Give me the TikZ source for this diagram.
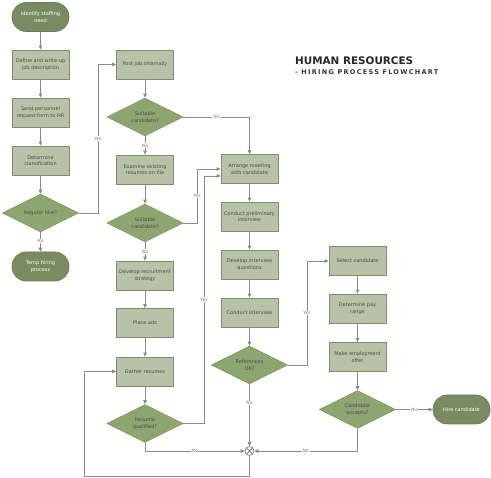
\documentclass[tikz,border=0pt]{standalone}
\usepackage{fontspec}
\setmainfont{DejaVu Sans}
\usetikzlibrary{arrows.meta,shapes.geometric,calc}
\definecolor{boxfill}{HTML}{B7C3A7}
\definecolor{boxline}{HTML}{7F8C73}
\definecolor{dfill}{HTML}{8DA66F}
\definecolor{dline}{HTML}{809A63}
\definecolor{tfill}{HTML}{7A8B62}
\definecolor{tline}{HTML}{6C7C56}
\definecolor{conn}{HTML}{8A8A8A}
\definecolor{txt}{HTML}{4A4A4A}
\definecolor{lbltxt}{HTML}{7A7A7A}
\tikzset{
  basefont/.style={font=\fontsize{5}{6.5}\selectfont},
  procbox/.style={basefont, rectangle, draw=boxline, fill=boxfill, line width=0.8pt,
    minimum width=57pt, minimum height=29pt, inner sep=1pt, align=center, text=txt},
  decision/.style={basefont, diamond, draw=dline, fill=dfill, line width=0.6pt,
    minimum width=76pt, minimum height=38pt, inner sep=0pt, aspect=2, align=center, text=txt},
  terminal/.style={basefont, rectangle, rounded corners=14pt, draw=tline, fill=tfill,
    line width=0.6pt, minimum width=57pt, minimum height=29pt, inner sep=1pt,
    align=center, text=white},
  junction/.style={circle, draw=conn, fill=white, line width=0.7pt, minimum size=9pt, inner sep=0pt},
  conn/.style={draw=conn, line width=0.9pt, -{Triangle[length=4pt,width=3.6pt]}},
  lbl/.style={font=\fontsize{4.5}{5}\selectfont, text=lbltxt, fill=white, inner sep=0.6pt},
}
\begin{document}
\begin{tikzpicture}[x=1pt,y=-1pt]
\useasboundingbox (0,0) rectangle (491,478);
% left column
\node[terminal] (start) at (40.5,17) {Identify staffing\\need};
\node[procbox] (def) at (40.5,64.5) {Define and write up\\job description};
\node[procbox] (send) at (40.5,112.5) {Send personnel\\request form to HR};
\node[procbox] (det) at (40.5,160.5) {Determine\\classification};
\node[decision] (reg) at (40.5,213) {Regular hire?};
\node[terminal] (temp) at (40.5,266.5) {Temp hiring\\process};
% middle column
\node[procbox] (post) at (145,64.5) {Post job internally};
\node[decision] (suit1) at (145,117) {Suitable\\candidate?};
\node[procbox] (exam) at (145,169.5) {Examine existing\\resumes on file};
\node[decision] (suit2) at (145,223) {Suitable\\candidate?};
\node[procbox] (dev) at (145,275.5) {Develop recruitment\\strategy};
\node[procbox] (place) at (145,323) {Place ads};
\node[procbox] (gather) at (145,371.5) {Gather resumes};
\node[decision] (resq) at (145,423.5) {Resume\\qualified?};
% right-middle column
\node[procbox] (arr) at (249.5,169) {Arrange meeting\\with candidate};
\node[procbox] (cpi) at (249.5,216.5) {Conduct preliminary\\interview};
\node[procbox] (diq) at (249.5,264.5) {Develop interview\\questions};
\node[procbox] (ci) at (249.5,312.5) {Conduct interview};
\node[decision] (ref) at (249.5,365) {References\\OK?};
\node[junction] (j) at (249.5,451) {};
\draw[conn, -] (j.north east) -- (j.south west);
\draw[conn, -] (j.north west) -- (j.south east);
% right column
\node[procbox] (sel) at (357.5,261) {Select candidate};
\node[procbox] (pay) at (357.5,308.5) {Determine pay\\range};
\node[procbox] (offer) at (357.5,357) {Make employment\\offer};
\node[decision] (acc) at (357.5,409.5) {Candidate\\accepts?};
\node[terminal] (hire) at (461.5,409.5) {Hire candidate};
% title
\node[anchor=west, inner sep=0pt, text=black!85, font=\bfseries\fontsize{10.4}{12}\selectfont] (t1) at (295,61) {HUMAN RESOURCES};
\node[anchor=west, inner sep=0pt, text=black!80, font=\bfseries\fontsize{6.5}{7}\selectfont\addfontfeature{LetterSpace=20}] (t2) at (295,72.5) {- HIRING PROCESS FLOWCHART};
% connectors
\draw[conn] (start) -- (def);
\draw[conn] (def) -- (send);
\draw[conn] (send) -- (det);
\draw[conn] (det) -- (reg);
\draw[conn] (reg) -- node[lbl, pos=0.45]{No} (temp);
\draw[conn] (reg.east) -- (98,213) -- node[lbl]{Yes} (98,64.5) -- (post.west);
\draw[conn] (post) -- (suit1);
\draw[conn] (suit1) -- node[lbl]{No} (exam);
\draw[conn] (suit1.east) -| node[lbl, pos=0.25]{Yes} (arr.north);
\draw[conn] (exam) -- (suit2);
\draw[conn] (suit2) -- node[lbl]{No} (dev);
\draw[conn] (suit2.east) -- (197,223) -- node[lbl]{Yes} (197,169) -- (arr.west);
\draw[conn] (dev) -- (place);
\draw[conn] (place) -- (gather);
\draw[conn] (gather) -- (resq);
\draw[conn] (resq.east) -- (204,423.5) -- node[lbl]{Yes} (204,176) -- ($(arr.west)+(0,7)$);
\draw[conn] (arr) -- (cpi);
\draw[conn] (cpi) -- (diq);
\draw[conn] (diq) -- (ci);
\draw[conn] (ci) -- (ref);
\draw[conn] (ref) -- node[lbl, pos=0.3]{No} (j);
\draw[conn] (ref.east) -- (307,365) -- node[lbl]{Yes} (307,261) -- (sel.west);
\draw[conn] (sel) -- (pay);
\draw[conn] (pay) -- (offer);
\draw[conn] (offer) -- (acc);
\draw[conn] (acc) -- node[lbl]{Yes} (hire);
\draw[conn] (acc.south) |- node[lbl, pos=0.75]{No} (j.east);
\draw[conn] (resq.south) |- node[lbl, pos=0.75]{No} (j.west);
\draw[conn] (j.south) |- (84,476) |- (gather.west);
\end{tikzpicture}
\end{document}
